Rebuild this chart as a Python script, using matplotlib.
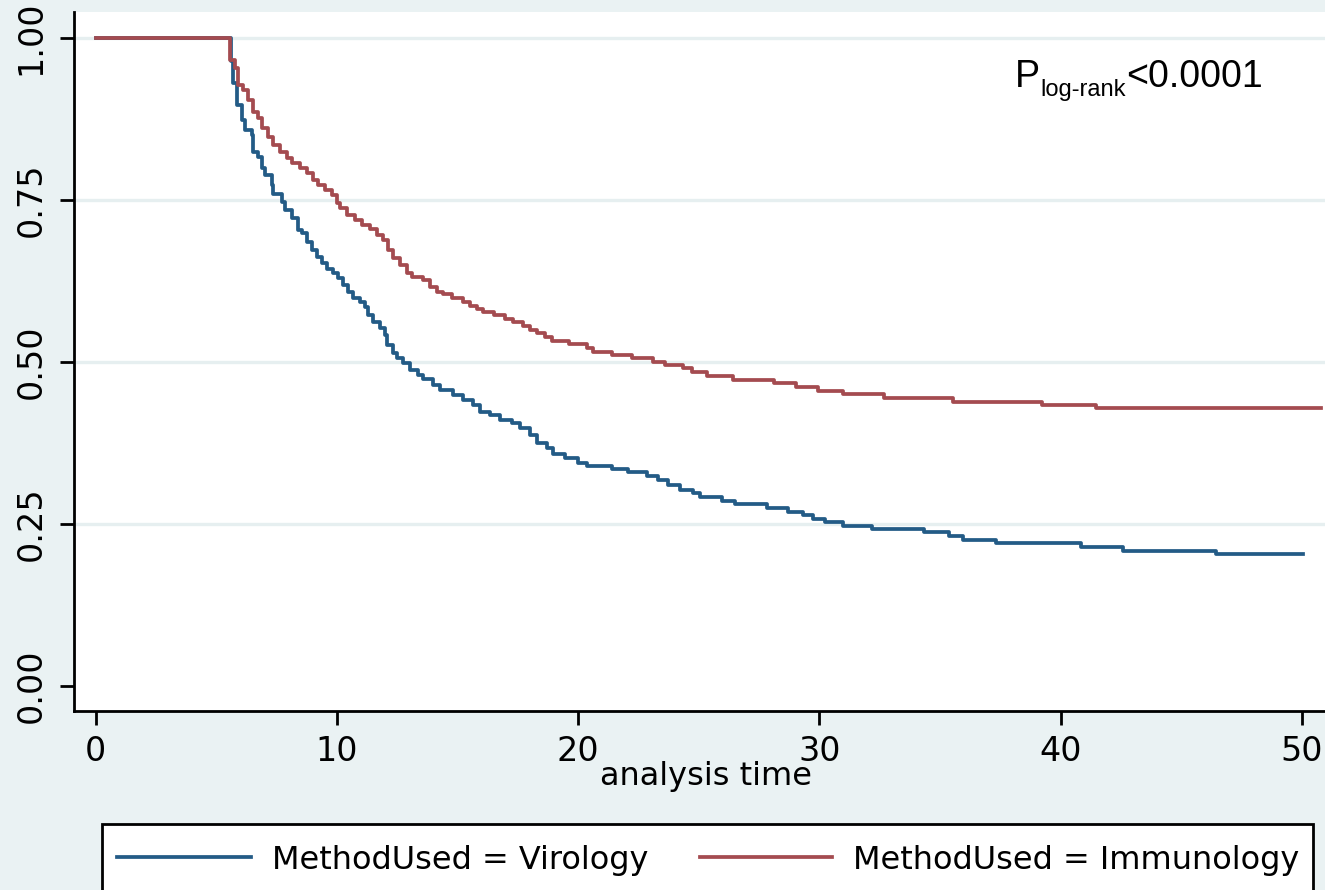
"""Kaplan-Meier style survival curves by method (Stata s2color look)."""

import matplotlib
matplotlib.use("Agg")
import matplotlib.pyplot as plt
from matplotlib.lines import Line2D
from matplotlib.patches import Rectangle

BG = "#EAF2F3"
GRID = "#E6EFF0"
BLUE = "#235B86"
RED = "#A44B50"

# step times and survival after each step
virology_time = [
    0.0, 5.60, 5.70, 5.85, 6.07, 6.19, 6.48, 6.52, 6.73, 6.89, 7.02, 7.31, 7.35,
    7.72, 7.85, 8.14, 8.38, 8.55, 8.76, 8.97, 9.18, 9.38, 9.59, 9.84, 10.04,
    10.25, 10.46, 10.67, 10.96, 11.16, 11.29, 11.50, 11.79, 11.99, 12.08, 12.33,
    12.49, 12.74, 13.03, 13.36, 13.57, 13.98, 14.27, 14.81, 15.23, 15.64, 15.93,
    16.35, 16.76, 17.26, 17.59, 18.00, 18.29, 18.71, 18.96, 19.46, 20.00, 20.37,
    21.40, 22.06, 22.85, 23.31, 23.72, 24.22, 24.76, 25.05, 25.96, 26.50, 27.83,
    28.70, 29.32, 29.74, 30.24, 30.98, 32.18, 34.34, 35.37, 35.96, 37.32, 40.85,
    42.59, 46.44, 50.05,
]
virology_surv = [
    1.000, 0.964, 0.930, 0.897, 0.873, 0.858, 0.850, 0.824, 0.816, 0.799, 0.789,
    0.773, 0.759, 0.747, 0.735, 0.722, 0.704, 0.699, 0.685, 0.673, 0.662, 0.653,
    0.644, 0.637, 0.630, 0.619, 0.608, 0.599, 0.593, 0.585, 0.573, 0.562, 0.552,
    0.542, 0.526, 0.514, 0.506, 0.498, 0.488, 0.480, 0.474, 0.464, 0.457, 0.449,
    0.441, 0.434, 0.423, 0.418, 0.411, 0.406, 0.398, 0.387, 0.375, 0.367, 0.358,
    0.352, 0.344, 0.340, 0.335, 0.330, 0.324, 0.318, 0.310, 0.302, 0.298, 0.292,
    0.285, 0.281, 0.275, 0.269, 0.264, 0.258, 0.253, 0.247, 0.242, 0.238, 0.231,
    0.225, 0.221, 0.215, 0.208, 0.204, 0.204,
]

immunology_time = [
    0.0, 5.56, 5.77, 5.90, 6.10, 6.31, 6.52, 6.73, 6.89, 7.14, 7.35, 7.64, 7.93,
    8.14, 8.47, 8.76, 9.01, 9.21, 9.51, 9.79, 10.00, 10.13, 10.42, 10.75, 11.04,
    11.37, 11.66, 11.91, 12.12, 12.33, 12.62, 12.90, 13.11, 13.57, 13.86, 14.15,
    14.40, 14.77, 15.23, 15.52, 15.81, 16.06, 16.51, 16.97, 17.30, 17.71, 18.00,
    18.29, 18.63, 18.92, 19.62, 20.37, 20.61, 21.40, 22.23, 23.10, 23.60, 24.34,
    24.72, 25.34, 26.42, 28.12, 29.03, 29.94, 30.98, 32.68, 35.54, 39.24, 41.47,
    50.80,
]
immunology_surv = [
    1.000, 0.966, 0.954, 0.927, 0.920, 0.904, 0.886, 0.877, 0.861, 0.847, 0.835,
    0.824, 0.815, 0.807, 0.799, 0.791, 0.781, 0.773, 0.765, 0.758, 0.745, 0.738,
    0.727, 0.719, 0.711, 0.705, 0.696, 0.688, 0.673, 0.660, 0.650, 0.637, 0.631,
    0.627, 0.616, 0.608, 0.605, 0.599, 0.593, 0.586, 0.582, 0.577, 0.572, 0.567,
    0.561, 0.555, 0.549, 0.544, 0.539, 0.533, 0.528, 0.522, 0.516, 0.511, 0.506,
    0.500, 0.495, 0.491, 0.485, 0.478, 0.472, 0.467, 0.461, 0.455, 0.451, 0.444,
    0.439, 0.434, 0.429, 0.429,
]

x_ticks = [0, 10, 20, 30, 40, 50]
y_ticks = [0.0, 0.25, 0.5, 0.75, 1.0]
y_ticklabels = ["0.00", "0.25", "0.50", "0.75", "1.00"]
legend_labels = ["MethodUsed = Virology", "MethodUsed = Immunology"]

W, H = 1325, 890
fig = plt.figure(figsize=(W / 100, H / 100), dpi=100)
fig.patch.set_facecolor(BG)

# axes box in pixels: left 74, bottom spine at 711, top of plot region at 12
ax = fig.add_axes([74 / W, (H - 711) / H, 1264 / W, 699 / H])
ax.set_facecolor("white")
ax.set_xlim(-0.9, 51.5)
ax.set_ylim(-0.0386, 1.0401)

for y in y_ticks[1:]:
    ax.axhline(y, color=GRID, linewidth=2.4, zorder=1)

ax.step(virology_time, virology_surv, where="post", color=BLUE, linewidth=2.7, zorder=3)
ax.step(immunology_time, immunology_surv, where="post", color=RED, linewidth=2.7, zorder=4)

for side in ("top", "right"):
    ax.spines[side].set_visible(False)
for side in ("left", "bottom"):
    ax.spines[side].set_linewidth(2.0)
    ax.spines[side].set_color("black")

ax.set_xticks(x_ticks)
ax.set_yticks(y_ticks)
ax.set_yticklabels(y_ticklabels, rotation=90, va="center")
ax.tick_params(axis="both", direction="out", length=10, width=2.0, labelsize=24,
               colors="black")
ax.tick_params(axis="y", pad=9)
ax.tick_params(axis="x", pad=7)
ax.set_xlabel("analysis time", fontsize=23, labelpad=-5)

# p-value annotation, built from pieces so the subscript sits right
fig.canvas.draw()
renderer = fig.canvas.get_renderer()
px, py = 1015, H - 87
t1 = fig.text(px / W, py / H, "P", fontsize=27, family="Liberation Sans",
              ha="left", va="baseline")
bb = t1.get_window_extent(renderer)
t2 = fig.text(bb.x1 / W, (py - 9) / H, "log-rank", fontsize=17,
              family="Liberation Sans", ha="left", va="baseline")
bb2 = t2.get_window_extent(renderer)
fig.text(bb2.x1 / W, py / H, "<0.0001", fontsize=27, family="Liberation Sans",
         ha="left", va="baseline")

# legend box, cut off at the bottom edge as in the source
box = Rectangle((102 / W, -0.05), (1313 - 102) / W, (H - 824) / H + 0.05,
                transform=fig.transFigure, facecolor="white", edgecolor="black",
                linewidth=2.0, zorder=5)
fig.add_artist(box)
ly = (H - 857) / H
fig.add_artist(Line2D([117 / W, 251 / W], [ly, ly], transform=fig.transFigure,
                      color=BLUE, linewidth=2.7, zorder=6))
fig.add_artist(Line2D([700 / W, 832 / W], [ly, ly], transform=fig.transFigure,
                      color=RED, linewidth=2.7, zorder=6))
fig.text(272 / W, (H - 860) / H, legend_labels[0], fontsize=23, ha="left",
         va="center", zorder=6)
fig.text(853 / W, (H - 860) / H, legend_labels[1], fontsize=23, ha="left",
         va="center", zorder=6)

fig.savefig("out.png", dpi=100, facecolor=fig.get_facecolor())
